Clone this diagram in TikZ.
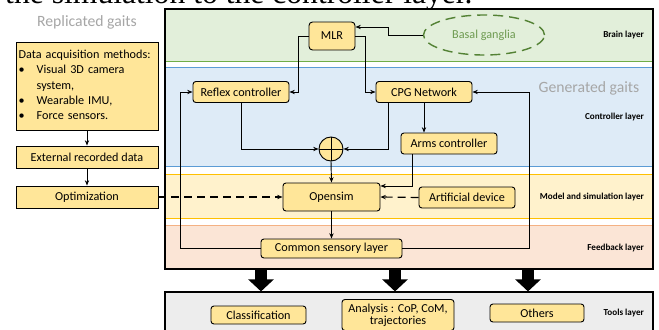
\documentclass[tikz,border=0pt]{standalone}
\usepackage{fontspec}
\setmainfont{Carlito}
\newfontfamily\paperfont{Liberation Serif}
\usetikzlibrary{arrows.meta,shapes.geometric}

\definecolor{boxfill}{HTML}{FFE699}
\definecolor{brainfill}{HTML}{E2EFDA}
\definecolor{brainline}{HTML}{70AD47}
\definecolor{ctrlfill}{HTML}{DEEBF7}
\definecolor{ctrlline}{HTML}{5B9BD5}
\definecolor{modelfill}{HTML}{FFF2CC}
\definecolor{modelline}{HTML}{FFC000}
\definecolor{feedfill}{HTML}{FBE5D6}
\definecolor{feedline}{HTML}{F4B183}
\definecolor{toolsfill}{HTML}{EDEDED}
\definecolor{gaitgray}{HTML}{A6A6A6}
\definecolor{ganglia}{HTML}{548235}
\definecolor{gangliatext}{HTML}{6E9A50}

\begin{document}
\begin{tikzpicture}[x=0.3mm,y=-0.3mm]

			\tikzstyle{box}=[fill=boxfill,draw=black,line width=0.8pt,
				inner sep=1pt,font=\fontsize{10.4}{12}\selectfont]
			\tikzstyle{sharpbox}=[box,minimum width=42.6mm,minimum height=6.6mm]
			\tikzstyle{ctrl}=[box,rounded corners=2.5pt,
				minimum width=28.8mm,minimum height=6.3mm]
			\tikzstyle{layertag}=[anchor=east,
				font=\bfseries\fontsize{7.8}{8}\selectfont]
			\tikzstyle{ghost}=[text=gaitgray,font=\fontsize{13.4}{15}\selectfont]
			\tikzstyle{flow}=[draw=black,line width=0.8pt,
				-{Stealth[length=1.6mm,width=1.3mm]}]
			\tikzstyle{simflow}=[flow,line width=1pt,dash pattern=on 2.4mm off 1.5mm]
			\tikzstyle{bigarrow}=[draw=black,line width=3.6mm,
				-{Triangle[width=7.5mm,length=3.6mm]}]

			\useasboundingbox (0,0) rectangle (659,329);
			\clip (0,0) rectangle (659,329);
			\fill[white] (0,0) rectangle (659,329);

			% cut-off line of the paper above the figure
			\node[anchor=base west,inner sep=0,
				font=\paperfont\fontsize{27}{28}\selectfont] (caption) at (5,3)
				{the simulation to the controller layer.};

			% layers
			\fill[brainfill] (165,9) rectangle (653,61);
			\draw[brainline,line width=0.8pt] (165,61) -- (653,61);
			\fill[ctrlfill] (165,67) rectangle (653,166);
			\draw[ctrlline,line width=0.8pt] (165,67) -- (653,67) (165,166) -- (653,166);
			\fill[modelfill] (165,174) rectangle (653,218);
			\draw[modelline,line width=0.8pt] (165,174) -- (653,174) (165,218) -- (653,218);
			\fill[feedfill] (165,225) rectangle (653,269);
			\draw[feedline,line width=0.8pt] (165,225) -- (653,225);

			\node[draw=black,line width=1pt,inner sep=0,
				minimum width=146.4mm,minimum height=78mm]	(frame)	at (409,139)	{};
			\node[draw=black,fill=toolsfill,line width=1pt,inner sep=0,
				minimum width=146.4mm,minimum height=14.4mm]	(tools)	at (409,316)	{};

			\node[layertag]	(brainTag)	at (648,35)	{Brain layer};
			\node[layertag]	(ctrlTag)	at (648,117)	{Controller layer};
			\node[layertag]	(modelTag)	at (648,197)	{Model and simulation layer};
			\node[layertag]	(feedTag)	at (648,248)	{Feedback layer};
			\node[layertag]	(toolsTag)	at (648,313)	{Tools layer};

			\node[ghost]	(replicated)	at (87,22)	{Replicated gaits};
			\node[ghost]	(generated)	at (589,88)	{Generated gaits};

			% replicated gaits
			\node[sharpbox,minimum height=26.4mm,text width=41mm,align=left]	(daq)	at (87,86)
				{\fontsize{10.4}{12.9}\selectfont
				\begin{tabular}{@{}l@{\hspace{3.6mm}}l@{}}
				\multicolumn{2}{@{}l}{Data acquisition methods:}\\
				\textbullet & Visual 3D camera\\
				& system,\\
				\textbullet & Wearable IMU,\\
				\textbullet & Force sensors.
				\end{tabular}};
			\node[sharpbox]	(external)	at (87,157)	{External recorded data};
			\node[sharpbox]	(optim)	at (87,197)	{Optimization};

			% brain and controllers
			\node[box,rounded corners=3pt,minimum width=13.8mm,minimum height=8.4mm]	(mlr)	at (332,36)	{MLR};
			\node[ellipse,draw=ganglia,line width=1.2pt,dash pattern=on 3mm off 1.8mm,
				minimum width=36.3mm,minimum height=12mm,text=gangliatext,
				font=\fontsize{10.4}{12}\selectfont]	(ganglia)	at (484,35)	{Basal ganglia};
			\node[ctrl]	(reflex)	at (241,92)	{Reflex controller};
			\node[ctrl]	(cpg)	at (424,92)	{CPG Network};
			\node[ctrl]	(arms)	at (449,143.5)	{Arms controller};
			\node[circle,fill=boxfill,draw=black,line width=0.8pt,
				minimum size=7.2mm,inner sep=0]	(sum)	at (331,149)	{};
			\draw[line width=0.8pt] (sum.north) -- (sum.south) (sum.west) -- (sum.east);

			% model, feedback
			\node[ctrl,minimum width=29.1mm,minimum height=8.4mm]	(opensim)	at (331.5,197)	{Opensim};
			\node[ctrl]	(device)	at (467,197.5)	{Artificial device};
			\node[ctrl,minimum width=42.3mm,minimum height=5.7mm]	(sensory)	at (331.5,248.5)	{Common sensory layer};

			% tools
			\node[ctrl,minimum width=28.5mm,minimum height=5.4mm]	(classif)	at (258.5,315)	{Classification};
			\node[ctrl,minimum width=33.6mm,minimum height=9.3mm,align=center,
				font=\fontsize{10.4}{10.2}\selectfont]	(analysis)	at (398,315)
				{Analysis : CoP, CoM,\\trajectories};
			\node[ctrl,minimum width=28.2mm,minimum height=5.4mm]	(others)	at (537,313)	{Others};

			% connectors
			\draw[flow] (daq) -- (external);
			\draw[flow] (external) -- (optim);
			\draw[flow] (ganglia.west) -- ++(-34,0) |- ([yshift=2.7mm]mlr.east);
			\draw[flow] (mlr.west) -- ++(-10,0) |- (reflex.east);
			\draw[flow] (mlr.east) -- ++(10,0) |- (cpg.west);
			\draw[flow] (reflex.south) |- (sum.west);
			\draw[flow] ([xshift=-10.8mm]cpg.south) |- (sum.east);
			\draw[flow] (cpg.south) -- (cpg.south |- arms.north);
			\draw[flow] (sum.south) -- (opensim.north);
			\draw[flow] ([xshift=-11.1mm]arms.south) |- ([yshift=3.3mm]opensim.east);
			\draw[simflow] (device.west) -- (opensim.east);
			\draw[simflow] (optim.east) -- (opensim.west);
			\draw[flow] (opensim.south) -- (sensory.north);
			\draw[flow] (sensory.west) -- ++(-80,0) |- (reflex.west);
			\draw[flow] (sensory.east) -- ++(127,0) |- (cpg.east);

			\foreach \dx in {-44.4mm,-4.2mm,35.7mm}
				\draw[bigarrow] ([xshift=\dx]frame.south) -- ([xshift=\dx]tools.north);

\end{tikzpicture}
\end{document}
